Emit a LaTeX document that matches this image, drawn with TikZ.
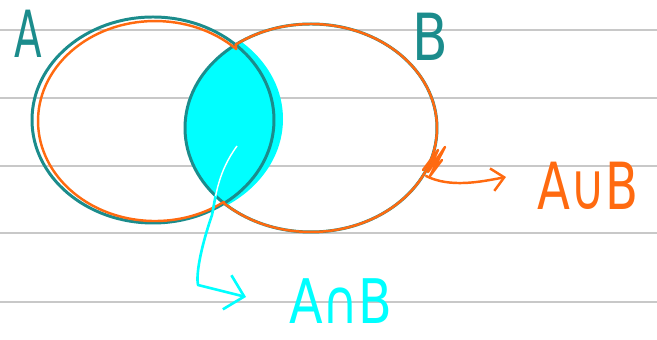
\documentclass[tikz,border=0pt]{standalone}
\usepackage{fontspec}
\setmainfont{DejaVu Sans}
\usetikzlibrary{arrows.meta}
\definecolor{tealc}{HTML}{1B8C8C}
\definecolor{orng}{HTML}{FF6A10}
\definecolor{cyn}{HTML}{00FFFF}
\definecolor{rulec}{HTML}{C8C8C8}
\tikzset{
  lbl/.style={inner sep=0pt, font=\fontsize{37}{40}\selectfont},
  rulel/.style={rulec, line width=0.85pt},
  setline/.style={tealc, line width=1.7pt},
  unionline/.style={orng, line width=1.4pt, line join=round, line cap=round},
  cyarrow/.style={cyn, line width=1.5pt, line cap=round, line join=round, -{Straight Barb[length=10pt,width=20pt,line width=1.5pt]}},
  orarrow/.style={orng, line width=1.4pt, line cap=round, -{Straight Barb[length=7pt,width=13pt,line width=1.4pt]}}
}
\begin{document}
\begin{tikzpicture}[x=0.02cm,y=-0.02cm]
\useasboundingbox (0,0) rectangle (657,340);
% ruled lines
\foreach \yy in {30,98,166,233,302} \draw[rulel] (0,\yy) -- (657,\yy);
% intersection fill
\begin{scope}
  \clip (160,119) ellipse [x radius=123, y radius=103];
  \fill[cyn] (311,128) ellipse [x radius=126, y radius=104];
\end{scope}
% sets
\draw[setline] (153,120) ellipse [x radius=121, y radius=103];
\draw[setline] (311,128) ellipse [x radius=126, y radius=104];
% union outline
\draw[unionline] (236.3,49.1) arc[start angle=-46, end angle=-306, x radius=117, y radius=100]
  -- (224.1,203.3) arc[start angle=133.6, end angle=-126.7, x radius=126, y radius=104] -- cycle;
% scribble
\draw[unionline] (423,170) -- (438,150) -- (428,172) -- (445,147) -- (430,176) -- (442,160);
% labels
\node[lbl, text=tealc, xscale=0.62] (la) at (28,34) {A};
\node[lbl, text=tealc, xscale=0.8] (lb) at (430,37) {B};
\node[lbl, text=orng, xscale=0.74] (lu) at (588,186) {A∪B};
\node[lbl, text=cyn, xscale=0.8, font=\fontsize{35}{38}\selectfont] (li) at (341,301) {A∩B};
% arrows
\coordinate (ustart) at (426,176);
\coordinate (utip) at (506,177);
\draw[orarrow] (ustart) .. controls (450,188) and (480,182) .. (utip);
\coordinate (istart) at (237,146);
\coordinate (ibend) at (198,285);
\coordinate (itip) at (246,297);
\draw[cyarrow] (istart) .. controls (218,172) and (216,195) .. (212,215)
  .. controls (200,250) and (196,275) .. (ibend) -- (itip);
\begin{scope}
  \clip (153,120) ellipse [x radius=121, y radius=103];
  \clip (311,128) ellipse [x radius=126, y radius=104];
  \draw[white, line width=0.8pt] (istart) .. controls (218,172) and (216,195) .. (212,215);
\end{scope}
\end{tikzpicture}
\end{document}
